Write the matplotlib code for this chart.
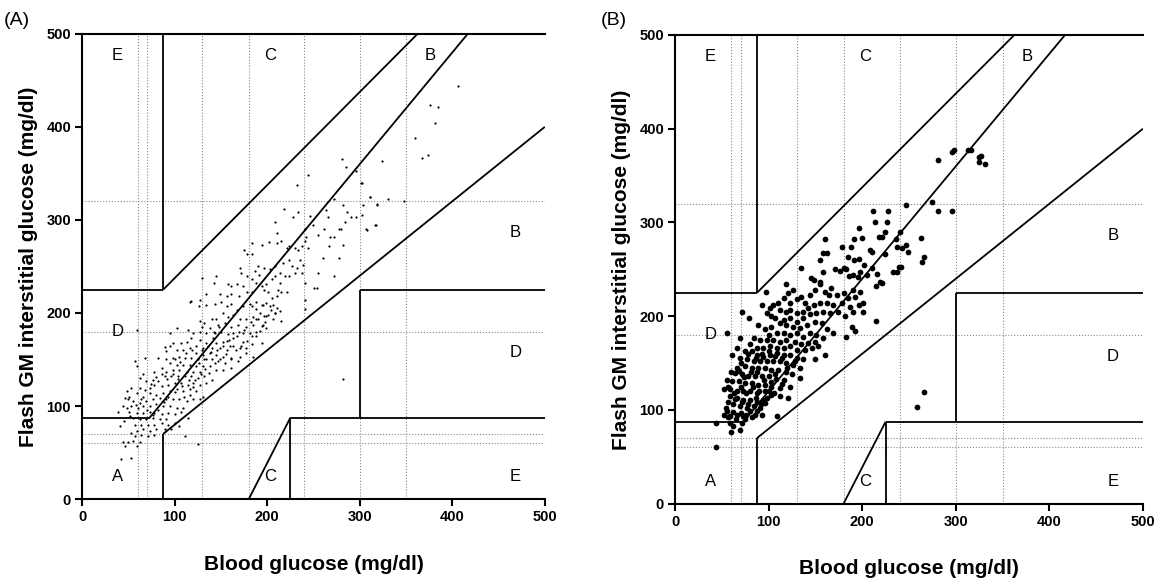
import matplotlib
matplotlib.use("Agg")
import matplotlib.pyplot as plt

plt.rcParams['font.family'] = ['Liberation Sans', 'DejaVu Sans']

# ---- panel (A): blood glucose vs flash GM (mg/dl) ----
a_pts = [
    (116, 212), (126, 207), (134, 209), (143, 210), (150, 212), (156, 207), (161, 210), (167, 203),
    (174, 207), (181, 210), (188, 212), (195, 209), (206, 209), (208, 200), (201, 198), (192, 200),
    (185, 196), (177, 193), (170, 194), (163, 198), (158, 196), (152, 200), (145, 194), (140, 193),
    (132, 189), (127, 191), (129, 185), (138, 184), (147, 187), (154, 189), (161, 185), (168, 187),
    (177, 185), (185, 187), (195, 187), (199, 184), (188, 180), (181, 178), (174, 178), (163, 178),
    (158, 177), (150, 180), (143, 178), (134, 178), (127, 180), (120, 178), (114, 182), (102, 184),
    (95, 178), (113, 169), (118, 173), (107, 168), (98, 168), (127, 171), (134, 168), (141, 173),
    (145, 168), (152, 169), (159, 171), (167, 175), (174, 169), (183, 175), (194, 168), (177, 162),
    (170, 162), (163, 164), (156, 160), (149, 162), (140, 162), (131, 162), (123, 164), (116, 162),
    (109, 160), (102, 160), (95, 164), (91, 159), (123, 157), (131, 155), (138, 157), (145, 155),
    (152, 153), (161, 152), (170, 153), (177, 157), (185, 153), (168, 148), (161, 150), (154, 146),
    (147, 148), (140, 150), (132, 150), (125, 150), (118, 152), (111, 152), (105, 153), (98, 152),
    (91, 150), (82, 152), (68, 152), (57, 148), (59, 143), (95, 146), (102, 144), (109, 144),
    (116, 144), (123, 143), (131, 143), (138, 143), (145, 139), (152, 139), (161, 141), (127, 137),
    (120, 137), (113, 137), (105, 139), (98, 139), (91, 137), (86, 141), (78, 137), (66, 134),
    (62, 130), (69, 127), (77, 128), (82, 127), (89, 132), (96, 132), (104, 132), (111, 132),
    (118, 132), (125, 130), (132, 132), (140, 128), (134, 125), (127, 123), (120, 125), (114, 123),
    (107, 125), (100, 125), (93, 123), (86, 121), (78, 123), (73, 119), (53, 119), (48, 116),
    (51, 110), (59, 114), (62, 119), (66, 110), (73, 114), (80, 112), (87, 114), (95, 116),
    (102, 118), (109, 116), (116, 112), (123, 116), (131, 110), (127, 107), (120, 107), (113, 105),
    (105, 107), (98, 107), (91, 107), (84, 109), (77, 107), (69, 105), (62, 103), (55, 105),
    (50, 107), (46, 109), (44, 100), (53, 100), (60, 98), (66, 100), (73, 100), (80, 102),
    (87, 100), (95, 100), (102, 98), (109, 98), (39, 94), (51, 94), (59, 93), (66, 93),
    (73, 94), (78, 93), (86, 91), (93, 93), (100, 91), (107, 94), (114, 87), (91, 86),
    (84, 86), (77, 87), (69, 86), (62, 86), (55, 87), (41, 78), (57, 80), (64, 80),
    (71, 80), (78, 80), (86, 82), (93, 80), (100, 82), (105, 78), (66, 75), (73, 73),
    (80, 75), (89, 75), (96, 75), (59, 73), (53, 71), (57, 68), (64, 69), (71, 68),
    (78, 69), (111, 68), (44, 61), (50, 61), (55, 62), (62, 61), (59, 57), (46, 57),
    (125, 59), (53, 44), (42, 43), (59, 182), (90, 163),
    # in-between dots of the dense band
    (100, 150), (106, 147), (112, 157), (119, 160), (126, 146), (133, 140), (137, 135), (143, 146),
    (149, 151), (155, 156), (160, 165), (166, 160), (172, 165), (178, 170), (183, 167), (188, 175),
    (192, 181), (198, 190), (204, 203), (210, 205), (120, 120), (115, 128), (108, 121), (100, 115),
    (93, 110), (88, 104), (82, 96), (76, 90), (70, 96), (64, 108), (58, 101), (52, 89),
    (48, 98), (45, 84), (68, 117), (74, 124), (80, 131), (86, 134), (92, 129), (98, 134),
    (104, 129), (110, 110), (116, 118), (122, 128), (128, 134), (134, 150), (139, 158), (146, 160),
    (152, 165), (157, 170), (163, 173), (169, 180), (175, 182), (182, 190), (190, 193), (197, 197),
    (130, 160), (136, 165), (142, 180), (148, 185),
    # upper part of the cloud
    (281, 365), (285, 357), (296, 353), (302, 340), (244, 348), (232, 337), (311, 325), (319, 316),
    (304, 316), (272, 322), (282, 316), (286, 309), (290, 303), (296, 303), (302, 305), (284, 298),
    (280, 290), (218, 312), (208, 298), (233, 308), (228, 303), (246, 304), (249, 294), (241, 290),
    (261, 290), (266, 303), (263, 311), (255, 284), (268, 282), (272, 282), (267, 272), (282, 273),
    (278, 290), (307, 290), (316, 294), (272, 240), (254, 227), (278, 259), (260, 259), (242, 282),
    (241, 277), (237, 272), (244, 270), (233, 268), (230, 270), (224, 272), (221, 270), (215, 277),
    (210, 275), (210, 286), (202, 276), (194, 273), (183, 275), (175, 268), (178, 263), (184, 263),
    (190, 250), (187, 245), (191, 241), (197, 248), (203, 247), (208, 250), (214, 243), (217, 254),
    (223, 257), (227, 250), (232, 248), (235, 257), (239, 252), (237, 243), (230, 243), (224, 240),
    (219, 240), (214, 232), (208, 240), (205, 236), (199, 231), (194, 229), (188, 232), (183, 236),
    (178, 240), (172, 243), (170, 248), (174, 229), (167, 231), (161, 229), (158, 231), (145, 240),
    (130, 238), (142, 232), (134, 220), (127, 214), (149, 220), (156, 218), (161, 220), (169, 218),
    (178, 223), (183, 222), (196, 225), (201, 222), (205, 216), (212, 225), (215, 223), (221, 222),
    (210, 218), (251, 227), (255, 243), (241, 232), (118, 213), (199, 211), (203, 207), (208, 200),
    (214, 202), (194, 209), (188, 204), (183, 207), (199, 197), (206, 193), (194, 186), (188, 193),
    (241, 214), (241, 204), (215, 191),
    (324, 363), (367, 367), (374, 370), (301, 340), (311, 325), (331, 323), (348, 320), (319, 317),
    (308, 289), (317, 295), (282, 129), (376, 424), (385, 421), (381, 404), (360, 388), (406, 444),
]

# ---- panel (B) ----
b_pts = [
    (97, 226), (119, 234), (121, 225), (126, 228), (116, 219), (110, 214), (105, 212), (123, 214),
    (130, 218), (135, 221), (139, 214), (144, 223), (150, 228), (155, 234), (160, 226), (164, 223),
    (167, 230), (173, 223), (180, 225), (185, 219), (190, 228), (192, 221), (198, 226), (201, 214),
    (196, 212), (187, 210), (178, 214), (169, 212), (162, 214), (155, 214), (148, 212), (142, 209),
    (137, 205), (130, 203), (123, 207), (118, 205), (112, 207), (101, 209), (93, 212), (98, 203),
    (103, 200), (71, 204), (79, 198), (89, 191), (107, 198), (116, 196), (123, 198), (130, 194),
    (137, 198), (144, 202), (151, 203), (158, 205), (166, 203), (174, 205), (182, 200), (190, 205),
    (201, 204), (189, 189), (192, 184), (183, 178), (169, 182), (162, 186), (157, 193), (150, 194),
    (141, 191), (134, 187), (126, 189), (119, 191), (112, 193), (103, 189), (96, 186), (100, 180),
    (109, 182), (116, 182), (123, 180), (130, 182), (137, 178), (144, 182), (151, 180), (158, 177),
    (150, 173), (142, 171), (135, 170), (128, 173), (119, 175), (112, 173), (105, 175), (98, 175),
    (91, 175), (84, 177), (80, 170), (69, 177), (55, 182), (87, 166), (94, 166), (101, 168),
    (109, 166), (116, 166), (123, 168), (130, 164), (139, 164), (146, 166), (153, 168), (160, 159),
    (150, 154), (137, 154), (130, 155), (123, 159), (116, 159), (109, 161), (101, 159), (94, 157),
    (87, 159), (82, 163), (75, 163), (66, 166), (61, 159), (69, 155), (77, 154), (84, 152),
    (91, 152), (98, 152), (105, 152), (112, 152), (119, 150), (126, 148), (134, 145), (134, 134),
    (125, 138), (118, 141), (110, 143), (103, 143), (96, 145), (89, 145), (82, 145), (75, 147),
    (66, 145), (64, 139), (71, 138), (78, 136), (85, 136), (93, 136), (100, 136), (107, 138),
    (116, 132), (123, 125), (112, 123), (103, 125), (96, 127), (89, 127), (82, 129), (75, 129),
    (68, 131), (61, 131), (55, 132), (52, 122), (59, 122), (66, 120), (73, 120), (80, 120),
    (87, 118), (96, 120), (103, 116), (112, 115), (121, 113), (94, 111), (87, 109), (80, 111),
    (73, 111), (66, 113), (59, 115), (62, 106), (69, 104), (77, 102), (84, 104), (91, 102),
    (55, 99), (52, 95), (59, 94), (66, 95), (73, 94), (80, 99), (85, 95), (93, 95),
    (109, 94), (75, 90), (59, 86), (62, 83), (69, 79), (60, 76), (44, 61), (44, 86),
    # the crowded blob low left
    (57, 125), (63, 118), (70, 125), (76, 118), (83, 125), (90, 120), (56, 108), (64, 112),
    (71, 108), (78, 106), (86, 113), (92, 106), (98, 113), (54, 102), (62, 98), (70, 97),
    (76, 95), (88, 99), (96, 107), (60, 140), (68, 142), (74, 135), (81, 140), (88, 140),
    (95, 132), (102, 130), (70, 150), (78, 160), (86, 155), (93, 160), (100, 163), (107, 158),
    (114, 155), (120, 145), (128, 152), (108, 133), (114, 128), (100, 120), (106, 118), (65, 90),
    (57, 92), (72, 86), (82, 92),
    # upper part
    (281, 367), (296, 375), (298, 377), (313, 377), (316, 377), (325, 370), (325, 364), (247, 319),
    (275, 322), (281, 312), (296, 312), (212, 312), (227, 312), (214, 301), (226, 301), (196, 294),
    (224, 290), (218, 285), (221, 285), (240, 290), (263, 283), (236, 282), (247, 276), (249, 268),
    (160, 282), (191, 282), (200, 283), (178, 274), (188, 274), (210, 269), (208, 271), (224, 266),
    (242, 273), (237, 274), (266, 263), (264, 258), (239, 252), (241, 252), (233, 247), (237, 247),
    (158, 267), (162, 267), (155, 260), (185, 263), (191, 260), (197, 261), (202, 255), (135, 251),
    (145, 241), (148, 239), (155, 236), (158, 247), (171, 250), (176, 248), (180, 251), (183, 250),
    (186, 243), (190, 244), (195, 242), (198, 247), (205, 244), (210, 251), (216, 245), (219, 236),
    (215, 232), (221, 235), (215, 195), (327, 371), (331, 362), (266, 119), (258, 103),
]

ticks = [0, 100, 200, 300, 400, 500]
ref_x = [60, 70, 130, 180, 240, 300, 350]   # dotted reference lines
ref_y = [60, 70, 180, 320]

# clarke grid (scaled to a 500 mg/dl axis)
zone_lines = [
    ([0, 72.9], [87.5, 87.5]),
    ([72.9, 416.7], [87.5, 500]),
    ([87.5, 87.5], [0, 70]),
    ([87.5, 500], [70, 400]),
    ([0, 87.5], [225, 225]),
    ([87.5, 87.5], [225, 500]),
    ([87.5, 362.5], [225, 500]),
    ([180, 225], [0, 87.5]),
    ([225, 225], [0, 87.5]),
    ([225, 500], [87.5, 87.5]),
    ([300, 300], [87.5, 225]),
    ([300, 500], [225, 225]),
]
zone_text = [("E", 38, 477), ("C", 203, 477), ("B", 376, 477), ("B", 468, 286),
             ("D", 38, 180), ("D", 468, 157), ("A", 38, 24), ("C", 203, 24), ("E", 468, 24)]


def draw_panel(ax, pts, size):
    for v in ref_x:
        ax.axvline(v, color='#888888', lw=0.8, ls=':', zorder=1)
    for v in ref_y:
        ax.axhline(v, color='#888888', lw=0.8, ls=':', zorder=1)
    for xs, ys in zone_lines:
        ax.plot(xs, ys, color='black', lw=1.3, zorder=3, solid_capstyle='butt')
    for t, x, y in zone_text:
        ax.text(x, y, t, fontsize=12, ha='center', va='center', zorder=4)
    bg = [p[0] for p in pts]
    gm = [p[1] for p in pts]
    ax.scatter(bg, gm, s=size, color='black', linewidths=0, zorder=2)

    ax.set_xlim(0, 500)
    ax.set_ylim(0, 500)
    ax.set_xticks(ticks)
    ax.set_yticks(ticks)
    ax.spines['right'].set_visible(False)
    for s in ['left', 'bottom', 'top']:
        ax.spines[s].set_linewidth(1.5)
    ax.tick_params(direction='out', length=5, width=1.5, labelsize=10.5, pad=3)
    for lab in ax.get_xticklabels() + ax.get_yticklabels():
        lab.set_fontweight('bold')
    ax.set_xlabel('Blood glucose (mg/dl)', fontsize=15, fontweight='bold', labelpad=22)
    ax.set_ylabel('Flash GM interstitial glucose (mg/dl)', fontsize=15, fontweight='bold', labelpad=6)


fig = plt.figure(figsize=(11.58, 5.83), dpi=100)
ax1 = fig.add_axes([0.071, 0.144, 0.3995, 0.798])
ax2 = fig.add_axes([0.583, 0.136, 0.404, 0.804])

draw_panel(ax1, a_pts, 2.5)
draw_panel(ax2, b_pts, 17)

fig.text(0.003, 0.965, '(A)', fontsize=14, va='center')
fig.text(0.519, 0.965, '(B)', fontsize=14, va='center')

fig.savefig('out.png', dpi=100)
